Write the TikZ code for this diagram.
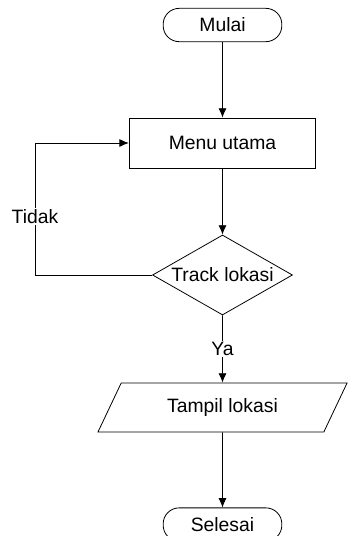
\documentclass[tikz,border=0pt]{standalone}
\usepackage{fontspec}
\setmainfont{Liberation Sans}
\usetikzlibrary{positioning,shapes,arrows.meta}
\tikzstyle{terminal} = [draw, rectangle, rounded corners=12pt, minimum width=89pt, minimum height=25pt, text centered]
\tikzstyle{process} = [draw, rectangle, minimum width=140pt, minimum height=37.5pt, text centered]
\tikzstyle{decision} = [draw, diamond, aspect=1.75, inner sep=0pt, minimum width=105pt, minimum height=60pt, text centered]
\tikzstyle{io} = [draw, trapezium, trapezium left angle=63, trapezium right angle=117, trapezium stretches=true, minimum width=187pt, minimum height=36.75pt, text centered]
\tikzstyle{line} = [draw, -{Latex[length=7pt, width=6pt]}]
\tikzstyle{answer} = [fill=white, inner sep=1pt]

\begin{document}
\begin{tikzpicture}[x=0.75pt, y=-0.75pt, line width=0.6pt, on grid, font=\fontsize{14.5}{17}\selectfont]
    \useasboundingbox (0,0) rectangle (348,536);

    % Place nodes
    \node [terminal] (mulai) at (222.5,25) {Mulai};
    \node [process, below=88.5pt of mulai] (menu) {Menu utama};
    \node [decision, below=99pt of menu] (track) {Track lokasi};
    \node [io, below=99.4pt of track] (tampil) {Tampil lokasi};
    \node [terminal, below=87.75pt of tampil] (selesai) {Selesai};
    \coordinate (loop) at (35,275);

    % Draw edges
    \path [line] (mulai) -- (menu);
    \path [line] (menu) -- (track);
    \path [line] (track.west) -- (loop) |- node [answer, pos=0.22] {Tidak} (menu.west);
    \path [line] (track) -- node [answer] {Ya} (tampil);
    \path [line] (tampil) -- (selesai);
\end{tikzpicture}
\end{document}
